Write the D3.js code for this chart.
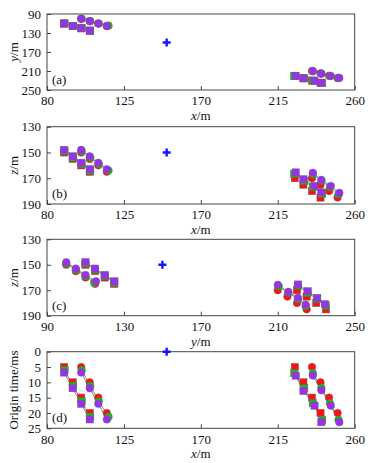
<!DOCTYPE html>
<html><head><meta charset="utf-8">
<script src="https://cdn.jsdelivr.net/npm/d3@7"></script>
<style>body{margin:0;background:#fff}svg{display:block}svg text{font-family:"Liberation Serif","Times New Roman",Times,serif !important;font-size:13px;fill:#111}</style>
</head><body>
<script>
// event shapes and groups
const shapes = ["square","square","square","square","circle","circle","circle","circle",
                "square","square","square","square","circle","circle","circle","circle"];
const groups = [0,0,0,0,1,1,1,1,2,2,2,2,3,3,3,3];
// true locations (red)
const trueX = [90,95,100,105, 100,105,110,115, 225,230,235,240, 235,240,245,250];
const trueY = [110,115,120,125, 100,105,110,115, 220,225,230,235, 210,215,220,225];
const trueZ = [150,155,160,165, 150,155,160,165, 170,175,180,185, 170,175,180,185];
const trueT = [5,10,15,20, 5,10,15,20, 5,10,15,20, 5,10,15,20];
// method 1 (green)
const greenX = [90.3,95.3,100.3,105.3, 100.3,105.3,110.3,116, 224.6,230.5,235.5,241, 235.5,240.5,245.5,250.5];
const greenY = [110,115,120,125, 100,105,110,114.5, 220.5,225.5,230.5,235, 210.5,215.5,220.5,224.5];
const greenZ = [149,154,159,164, 149,154,159,164, 166.5,172,177,182, 167,172,177,182.5];
const greenT = [6.0,11.1,16.2,21.2, 6.0,11.1,16.2,21.2, 7.0,11.9,16.8,22.3, 7.0,11.8,16.8,22.2];
// method 2 (purple)
const purpleX = [90,95,100,105, 100,105,110,115, 225.5,230,236.5,240.5, 235.5,240.5,246,251];
const purpleY = [110,115,120,125, 100,105,110,115.5, 220.5,225.5,230.5,234.5, 210,215.5,220.5,224.5];
const purpleZ = [148,153,158,163, 148,153,158,163, 165.5,170.8,176,181, 165.8,171.3,176,181.4];
const purpleT = [6.8,11.9,17.0,22.1, 6.8,11.9,17.0,22.1, 7.8,12.8,17.6,23.0, 7.8,12.6,17.6,23.0];
// station (blue cross)
const stationX = [150], stationY = [150], stationZ = [150], stationT = [0];
// axis ticks
const xTicks = [80,125,170,215,260];
const yTicksA = [90,130,170,210,250];
const zTicks = [130,150,170,190];
const yTicksC = [90,130,170,210,250];
const tTicks = [0,5,10,15,20,25];

const W = 373, H = 463;
const FONT = '"Liberation Serif","Times New Roman",Times,serif';
const svg = d3.select("body").append("svg").attr("width", W).attr("height", H);
const L = 47, R = 354.7;

const panels = [
  {tag:"(a)", top:14, bottom:90, hx:trueX, hy:trueY, gx:greenX, gy:greenY, px:purpleX, py:purpleY, sx:stationX, sy:stationY,
   xd:[80,260], yd:[90,250], xt:xTicks, yt:yTicksA, xl:["x","/m"], yl:["y","/m"]},
  {tag:"(b)", top:126.7, bottom:204, hx:trueX, hy:trueZ, gx:greenX, gy:greenZ, px:purpleX, py:purpleZ, sx:stationX, sy:stationZ,
   xd:[80,260], yd:[130,190], xt:xTicks, yt:zTicks, xl:["x","/m"], yl:["z","/m"]},
  {tag:"(c)", top:239.3, bottom:315.7, hx:trueY, hy:trueZ, gx:greenY, gy:greenZ, px:purpleY, py:purpleZ, sx:stationY, sy:stationZ,
   xd:[90,250], yd:[130,190], xt:yTicksC, yt:zTicks, xl:["y","/m"], yl:["z","/m"]},
  {tag:"(d)", top:351.7, bottom:428.3, hx:trueX, hy:trueT, gx:greenX, gy:greenT, px:purpleX, py:purpleT, sx:stationX, sy:stationT,
   xd:[80,260], yd:[0,25], xt:xTicks, yt:tTicks, xl:["x","/m"], yl:null, ylText:"Origin time/ms"}
];

const colors = {red:"#ff1010", green:"#10c010", purple:"#9a2ff0"};

panels.forEach(p => {
  const x = d3.scaleLinear().domain(p.xd).range([L, R]);
  const y = d3.scaleLinear().domain(p.yd).range([p.top, p.bottom]);
  const g = svg.append("g");
  const h = p.bottom - p.top;

  const bx = g.append("g").attr("transform", `translate(0,${p.bottom})`)
    .call(d3.axisBottom(x).tickValues(p.xt).tickSizeInner(-4).tickSizeOuter(0).tickPadding(6));
  const ly = g.append("g").attr("transform", `translate(${L},0)`)
    .call(d3.axisLeft(y).tickValues(p.yt).tickSizeInner(-4).tickSizeOuter(0).tickPadding(6));
  [bx, ly].forEach(a => {
    a.attr("font-family", null).attr("font-size", null);
    a.select(".domain").remove();
    a.selectAll("line").attr("stroke", "#444");
    a.selectAll("text").style("font-family", FONT).style("font-size", "13px").attr("fill", "#111");
  });
  bx.selectAll("text").attr("dy", "0.71em");
  g.append("rect").attr("x", L).attr("y", p.top).attr("width", R - L).attr("height", h)
    .attr("fill", "none").attr("stroke", "#444").attr("stroke-width", 1);

  const xl = g.append("text").attr("x", (L + R) / 2).attr("y", p.bottom + 30).attr("text-anchor", "middle")
    .style("font-family", FONT);
  xl.append("tspan").attr("font-style", "italic").text(p.xl[0]);
  xl.append("tspan").text(p.xl[1]);
  const yl = g.append("text").attr("transform", `translate(18,${(p.top + p.bottom) / 2}) rotate(-90)`)
    .attr("text-anchor", "middle").style("font-family", FONT);
  if (p.yl) {
    yl.append("tspan").attr("font-style", "italic").text(p.yl[0]);
    yl.append("tspan").text(p.yl[1]);
  } else {
    yl.text(p.ylText);
  }
  g.append("text").attr("x", L + 5).attr("y", p.bottom - 6).style("font-family", FONT).text(p.tag);

  const line = d3.line();
  [[p.gx, p.gy], [p.px, p.py]].forEach(([sx, sy]) => {
    d3.range(4).forEach(gi => {
      const pts = d3.range(sx.length).filter(i => groups[i] === gi).map(i => [x(sx[i]), y(sy[i])]);
      g.append("path").attr("d", line(pts)).attr("fill", "none").attr("stroke", "#888").attr("stroke-width", 1);
    });
  });

  const drawSet = (sx, sy, col) => {
    sx.forEach((v, i) => {
      const cx = x(v), cy = y(sy[i]);
      if (shapes[i] === "square") {
        g.append("rect").attr("x", cx - 3.6).attr("y", cy - 3.6).attr("width", 7.2).attr("height", 7.2)
          .attr("fill", col).attr("stroke", "#666").attr("stroke-width", 0.5);
      } else {
        g.append("circle").attr("cx", cx).attr("cy", cy).attr("r", 3.8)
          .attr("fill", col).attr("stroke", "#666").attr("stroke-width", 0.5);
      }
    });
  };
  drawSet(p.hx, p.hy, colors.red);
  drawSet(p.gx, p.gy, colors.green);
  drawSet(p.px, p.py, colors.purple);

  p.sx.forEach((v, i) => {
    const cx = x(v), cy = y(p.sy[i]);
    g.append("path").attr("d", `M${cx - 4},${cy}H${cx + 4}M${cx},${cy - 4}V${cy + 4}`)
      .attr("stroke", "#1515ff").attr("stroke-width", 2.4).attr("fill", "none");
  });
});
</script>
</body></html>
